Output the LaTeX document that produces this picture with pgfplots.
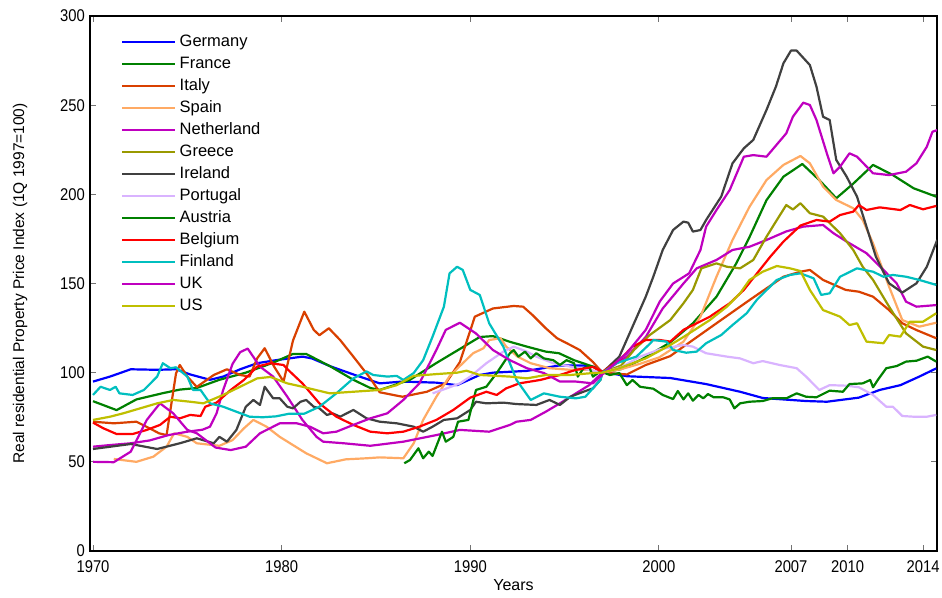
\documentclass[border=0pt]{standalone}
\usepackage{fontspec}
\setmainfont{Liberation Sans}
\newfontfamily\narrowfont[FakeStretch=0.87]{Liberation Sans}
\usepackage{pgfplots}
\pgfplotsset{compat=1.18}
\definecolor{cger}{RGB}{0,0,255}
\definecolor{cfra}{RGB}{0,128,0}
\definecolor{cita}{RGB}{217,64,0}
\definecolor{cspa}{RGB}{255,170,100}
\definecolor{cnet}{RGB}{191,0,191}
\definecolor{cgre}{RGB}{153,153,0}
\definecolor{cire}{RGB}{64,64,64}
\definecolor{cpor}{RGB}{217,179,255}
\definecolor{caus}{RGB}{0,128,0}
\definecolor{cbel}{RGB}{255,0,0}
\definecolor{cfin}{RGB}{0,191,191}
\definecolor{cuk}{RGB}{191,0,191}
\definecolor{cus}{RGB}{191,191,0}
\begin{document}
\begin{tikzpicture}
\useasboundingbox (-90pt,-46pt) rectangle (852pt,551pt);
\begin{axis}[
  scale only axis, width=847pt, height=535pt,
  xmin=1969.84, xmax=2014.74, ymin=0, ymax=300,
  xtick={1970,1980,1990,2000,2007,2010,2014},
  xticklabels={1970,1980,1990,2000,2007,2010,2014},
  ytick={0,50,100,150,200,250,300},
  yticklabels={0,50,100,150,200,250,300},
  tick align=inside, tick pos=both, major tick length=6pt,
  every tick/.style={black!55, line width=0.9pt},
  axis line style={line width=1.2pt},
  ticklabel style={font=\fontsize{17}{17}\selectfont\narrowfont},
  xticklabel style={inner sep=0pt, anchor=north, yshift=-9pt},
  yticklabel style={inner sep=0pt, anchor=east, xshift=-5pt},
  xlabel={Years}, ylabel={Real residential Property Price Index (1Q 1997=100)},
  every axis x label/.style={at={([yshift=-34pt]rel axis cs:0.5,0)}, anchor=center, font=\fontsize{16}{16}\selectfont},
  every axis y label/.style={at={([xshift=-70pt]rel axis cs:0,0.5)}, rotate=90, anchor=center, font=\fontsize{15.5}{16}\selectfont},
  no markers,
  every axis plot/.append style={line width=2.2pt, line join=round},
  legend cell align=left,
  legend image code/.code={\draw[#1, line width=2.5pt] (0pt,0pt) -- (53pt,0pt);},
  legend style={at={(rel axis cs:0,1)}, anchor=north west, xshift=31pt, yshift=-15pt,
    draw=none, fill=none, inner sep=0pt, row sep=0pt, column sep=0pt,
    font=\fontsize{16.5}{16.5}\selectfont,
    nodes={inner sep=3pt, text height=12pt, text depth=4pt}},
]
% Germany
\addplot[color=cger] coordinates {(1970,95)(1970.9,97.8)(1972,101.9)(1973.4,101.6)(1974.4,101.9)(1975.15,99)(1975.85,97)(1976.2,96)(1976.9,97.8)(1977.8,101.9)(1978.7,105.3)(1979.7,107)(1980.4,108)(1981.1,109)(1981.6,108)(1982.6,103.5)(1983.8,99)(1985.2,94)(1986.4,95)(1988.2,94.4)(1989.3,93)(1990.5,98.7)(1991.2,100)(1993,101)(1994.7,104)(1996,104)(1996.7,103)(1997,100.5)(1998.3,98)(2000.6,97)(2002.5,93.6)(2004.3,89.3)(2005.5,85.8)(2007.8,84.1)(2008.9,83.7)(2010.6,86)(2011.7,90.3)(2012.8,93)(2013.8,97.8)(2014.7,102.4)};
\addlegendentry{Germany}
% France
\addplot[color=cfra] coordinates {(1970,84)(1971.25,79)(1972.3,85)(1973.7,88.5)(1974.6,90.5)(1975.5,91.4)(1976.7,96)(1978.1,100)(1979.5,105.4)(1980.6,110.5)(1981.3,110.5)(1982.6,103.4)(1983.8,96)(1984.7,91.4)(1985.2,90.3)(1986.8,96)(1988.2,105.4)(1989.4,113)(1990.5,120)(1991.2,120.5)(1992.1,117.3)(1993,114.6)(1994,111.8)(1994.7,110.9)(1995.5,107)(1996.5,103.4)(1997,100)(1998,102)(1999,107)(1999.5,110)(2000.6,117)(2001.8,127.7)(2003.05,142.6)(2004.1,161.3)(2004.8,176)(2005.7,196.7)(2006.6,209.9)(2007.6,217)(2008.5,208)(2009.4,197.8)(2010.3,206)(2011.35,216.5)(2012.4,210.8)(2013.5,203.4)(2014.7,198.7)};
\addlegendentry{France}
% Italy
\addplot[color=cita] coordinates {(1970,72.5)(1971.1,71.6)(1972.3,72.5)(1973,68.8)(1973.5,66)(1973.9,65)(1974.4,99.6)(1974.6,104.3)(1975,97.8)(1975.5,92)(1976.4,98.7)(1977.1,101.9)(1977.8,98.7)(1978.3,97.8)(1978.7,108)(1979.1,113.7)(1979.6,103.4)(1980.1,95)(1980.6,118)(1981.2,134.2)(1981.7,124)(1982,121)(1982.5,124.9)(1983.1,118.3)(1983.8,109)(1984.7,96.8)(1985.2,89)(1986.4,86.5)(1987.7,89.3)(1988.7,94)(1989.45,106)(1990.24,131.4)(1991.2,136)(1992.3,137.4)(1992.8,137)(1993.3,132.3)(1994,124.9)(1994.6,119.3)(1995.3,115.5)(1995.8,112.7)(1996.5,106)(1997,100)(1998.3,99)(1999.3,104.3)(2000.6,109.3)(2001.3,114.6)(2003.05,127.7)(2004.8,140.7)(2006.6,153.8)(2007.5,156.6)(2008,157.6)(2008.7,152)(2009.9,146.4)(2010.6,145.4)(2011.35,142.6)(2012.2,135.1)(2012.9,127.7)(2013.65,123.9)(2014.7,119.3)};
\addlegendentry{Italy}
% Spain
\addplot[color=cspa] coordinates {(1971.1,51.6)(1972.3,50)(1973.2,52.9)(1973.9,58.5)(1974.3,66)(1975,64)(1975.5,60.4)(1976.7,59)(1977.4,62.2)(1978,68.8)(1978.5,73.5)(1979.2,69.7)(1979.9,64)(1981.3,54.8)(1982.4,49.2)(1983.4,51.4)(1984.5,52)(1985.2,52.5)(1986.45,52)(1987,60.4)(1987.5,73.5)(1988.2,86.5)(1988.9,98)(1989.6,105.3)(1990.15,110.9)(1990.7,113.7)(1991,118.3)(1991.6,119.3)(1991.9,114.6)(1992.5,109)(1993.2,105.3)(1994.2,102.5)(1995.3,101.6)(1996.3,101.6)(1997,100)(1998,102)(1999,105)(2000,108.5)(2001.3,117.4)(2002.2,131.4)(2003.05,153.8)(2003.9,174.4)(2004.8,193)(2005.7,208)(2006.6,216.5)(2007.5,221.5)(2008,217.4)(2008.7,204.3)(2009.4,196.8)(2010.3,192.2)(2010.8,185.6)(2011.35,172.5)(2012.2,148.2)(2012.9,129.5)(2013.8,125.8)(2014.7,128)};
\addlegendentry{Spain}
% Netherland
\addplot[color=cnet] coordinates {(1970,58.5)(1971,59.5)(1972,60.4)(1973,62)(1974,65)(1975,66.9)(1975.8,68)(1976.2,69.7)(1976.55,77.2)(1976.9,90.3)(1977.4,105)(1977.8,111.5)(1978.2,113.5)(1978.85,103.4)(1979.55,97.8)(1980.3,86.5)(1981.1,73.5)(1981.85,64)(1982.2,61.3)(1983.3,60.4)(1984.7,59)(1986.45,61.3)(1988.2,65)(1989.45,67.9)(1991,66.9)(1992.1,70.7)(1992.45,72.5)(1993.2,73.5)(1994,78.1)(1994.75,82.8)(1995.6,88.4)(1996.3,93)(1997,100)(1998.3,109)(1999.3,120)(2000.2,136)(2000.75,143)(2001.3,150)(2002,158.5)(2003.05,163.2)(2003.9,168.8)(2004.8,170.6)(2005.7,174.4)(2006.75,179.2)(2007.65,181.9)(2008.7,182.8)(2009.25,178.2)(2009.95,173.5)(2011,167)(2011.9,157.6)(2012.6,150.1)(2013.1,139.8)(2013.65,137)(2014.7,137.9)};
\addlegendentry{Netherland}
% Greece
\addplot[color=cgre] coordinates {(1997,100)(1998,104)(1998.7,113)(1999.5,121)(2000.6,129.5)(2001.3,138.9)(2001.8,146.4)(2002.25,158.5)(2003.05,161.3)(2003.6,159.4)(2004.3,158.5)(2005,163.2)(2005.7,176.2)(2006.25,185.6)(2006.75,194)(2007.1,191.5)(2007.5,195)(2008,189.4)(2008.7,187.5)(2009.6,178.2)(2010.3,168.8)(2010.8,159.4)(2011.35,152)(2012.2,137)(2013.1,122)(2014,114.6)(2014.7,112.7)};
\addlegendentry{Greece}
% Ireland
\addplot[color=cire] coordinates {(1970,57.2)(1972,60)(1973.4,57.2)(1974.6,60.4)(1975.5,63.2)(1976.4,60.4)(1976.7,64)(1977.1,61.3)(1977.6,67.9)(1978.1,80.9)(1978.5,84.7)(1978.85,81.9)(1979.1,92.1)(1979.55,85.6)(1979.9,85.6)(1980.3,80.9)(1980.6,80)(1981,83.7)(1981.3,84.7)(1981.7,80.9)(1982,80)(1982.4,76.3)(1982.7,77.2)(1983.1,75.3)(1983.8,79.1)(1984.5,74.4)(1985.2,72.5)(1986.1,71.6)(1987,69.7)(1987.5,66.9)(1988,69.7)(1988.6,73.5)(1989.3,74.4)(1990,79.1)(1990.3,83.7)(1990.85,82.8)(1991.75,83.2)(1992.45,82.4)(1993.5,81.9)(1994.2,84.7)(1994.75,81.9)(1995.3,86.5)(1996,89.3)(1996.5,91.2)(1996.9,96)(1997,100)(1997.9,109)(1998.6,125.8)(1999.3,142.6)(1999.7,153.8)(2000.2,168.8)(2000.75,180)(2001.3,184.7)(2001.55,184.1)(2001.8,179.1)(2002.2,180)(2002.5,185.6)(2003.3,198.7)(2003.9,217.4)(2004.5,225.8)(2005,230.5)(2005.7,247.3)(2006.2,260.4)(2006.6,273.5)(2007,280.6)(2007.3,280.6)(2008,272.5)(2008.35,260.4)(2008.7,243.5)(2009.05,241.7)(2009.4,219.3)(2009.95,209.9)(2010.5,198.7)(2011,181.9)(2011.5,165)(2012.2,150.1)(2012.9,144.9)(2013.65,150.1)(2014.2,159.4)(2014.75,174.4)};
\addlegendentry{Ireland}
% Portugal
\addplot[color=cpor] coordinates {(1988,88.4)(1988.7,91)(1989.45,94)(1990,97.8)(1990.85,105.3)(1991.75,111.8)(1992.3,114.6)(1993,111.8)(1993.5,109)(1994.4,105.3)(1995.3,103.4)(1996.3,101.6)(1997,100)(1998,103)(1999,109)(2000.05,113.1)(2001.3,115.5)(2001.8,114.6)(2002.5,110.9)(2003.6,109)(2004.3,108)(2005,105.3)(2005.5,106.5)(2006.4,104.3)(2007.3,102.5)(2007.8,97.8)(2008.5,90.3)(2009.05,93)(2009.95,92.7)(2010.6,91.8)(2011.35,87.5)(2012.05,80.9)(2012.4,80.9)(2012.9,75.7)(2013.5,75.3)(2014.2,75.3)(2014.7,76.3)};
\addlegendentry{Portugal}
% Austria
\addplot[color=caus] coordinates {(1986.5,49.2)(1986.8,51)(1987.25,57.6)(1987.5,52)(1987.8,55.7)(1988,53.3)(1988.5,66.9)(1988.7,61.3)(1989.1,64)(1989.35,72.5)(1989.9,73.5)(1990.3,90.3)(1990.85,92.1)(1991.4,99.8)(1991.75,105.3)(1992.1,110.9)(1992.3,112.7)(1992.55,109)(1992.9,111.8)(1993.2,108)(1993.5,110.9)(1993.9,108)(1994.4,107)(1994.75,104.3)(1995.1,107)(1995.5,105.3)(1995.7,97.8)(1996,102.5)(1996.3,103.4)(1996.5,97.8)(1996.9,100.7)(1997.4,98.7)(1997.9,99.8)(1998.3,93)(1998.6,95.9)(1999,92.1)(1999.7,91)(2000.2,87.5)(2000.75,85.2)(2001,89.7)(2001.3,85)(2001.55,88.4)(2001.8,84.3)(2002.1,87.5)(2002.35,85.6)(2002.6,88)(2002.9,86.2)(2003.4,86.2)(2003.75,85)(2004,80)(2004.3,82.8)(2004.8,83.7)(2005.5,84.1)(2006,85.6)(2006.75,85.6)(2007.3,88.4)(2007.8,86.5)(2008.35,86.2)(2009.05,89.9)(2009.75,89.3)(2010.1,93.6)(2010.8,94)(2011.2,95.9)(2011.35,91.8)(2011.6,95.9)(2012.05,102.5)(2012.6,103.7)(2013.1,106.2)(2013.65,106.7)(2014.25,109)(2014.7,106.2)};
\addlegendentry{Austria}
% Belgium
\addplot[color=cbel] coordinates {(1970,72)(1970.55,68.8)(1971.25,65.6)(1972.1,65.6)(1972.85,67.9)(1973.55,70.7)(1974.1,75.3)(1974.6,74.4)(1975.15,76.3)(1975.7,75.7)(1975.95,80.9)(1976.55,83.2)(1977.3,90.3)(1978,95.9)(1978.7,103.4)(1979.4,105.3)(1980.1,104.3)(1980.3,102)(1981.1,94)(1982,82.8)(1982.9,75.3)(1983.8,70.7)(1984.7,66.9)(1985.6,66)(1986.45,66.9)(1987.3,69.7)(1988.2,73.5)(1989.1,79.1)(1990,86)(1990.85,89.3)(1991.4,87.5)(1991.9,91.2)(1992.6,94)(1993.7,95.9)(1994.75,98.7)(1995.6,101.6)(1996.5,103.2)(1997,100.5)(1997.9,107)(1998.6,114.6)(1999.3,118.3)(2000.05,118.3)(2000.6,117.4)(2001.3,124)(2002.7,131.4)(2003.75,138.9)(2004.5,146.4)(2005.2,155.7)(2005.9,165)(2006.6,173.5)(2007.5,182.5)(2008.35,185.6)(2009.05,184.7)(2009.6,188.4)(2010.3,190.3)(2010.6,194)(2011,191.2)(2011.7,192.7)(2012.8,191.2)(2013.3,194)(2014,191.6)(2014.7,193.5)};
\addlegendentry{Belgium}
% Finland
\addplot[color=cfin] coordinates {(1970,87.5)(1970.4,92.1)(1970.9,90.3)(1971.2,92.1)(1971.4,88.4)(1972.1,87.5)(1972.7,90.3)(1973.4,97.8)(1973.7,105.3)(1974.1,102.5)(1974.4,103)(1975,97.8)(1975.3,90.3)(1975.7,90.3)(1976.2,82.8)(1976.9,80.9)(1977.6,78.1)(1978.3,75.3)(1979,75)(1979.7,75.5)(1980.4,77)(1981.2,77)(1982,80.9)(1982.9,88.4)(1983.8,96.8)(1984.5,100.7)(1984.85,98.7)(1985.6,97.8)(1986.1,98.2)(1986.45,95.9)(1987,99.8)(1987.5,107)(1988,120.2)(1988.6,137)(1988.9,155.7)(1989.3,159.4)(1989.6,157.6)(1990,146.4)(1990.5,143.6)(1991,127.7)(1991.75,114.6)(1992.45,95.9)(1993.2,84.7)(1993.9,88.4)(1994.75,86.5)(1995.6,85.6)(1996.1,86.5)(1996.9,96)(1997,100)(1997.75,105.3)(1998.8,109)(1999.5,116)(1999.7,118.3)(2000.4,117.4)(2000.75,112.7)(2001.45,111.2)(2002,111.8)(2002.5,116.5)(2003.3,121.1)(2003.9,126.7)(2004.65,133.3)(2005.2,141)(2006.25,152)(2006.95,154.8)(2007.5,155.7)(2008.2,152.9)(2008.6,143.6)(2009.05,144.5)(2009.6,153.8)(2010.5,158.5)(2011.35,156.6)(2011.9,153.8)(2012.4,154.8)(2013.1,153.8)(2013.8,152)(2014.7,149.2)};
\addlegendentry{Finland}
% UK
\addplot[color=cuk] coordinates {(1970,50)(1971.1,49.8)(1972,55.7)(1972.85,73.5)(1973.55,82.8)(1974.25,77.2)(1975,67.9)(1975.5,66)(1976.5,58)(1977.3,56.6)(1978.1,58.5)(1978.85,66)(1979.9,71.6)(1980.8,71.6)(1981.5,69.7)(1982.2,66)(1982.9,66.9)(1983.8,70.7)(1984.7,74.4)(1985.6,77.2)(1986.45,84.7)(1987.3,94)(1988.2,112.7)(1988.7,124)(1989.45,128)(1990.3,122)(1991.2,112.7)(1992.1,107)(1993,102.5)(1993.9,99.8)(1994.75,95)(1995.6,95)(1996.5,94)(1997,99)(1998.3,111)(1999.3,124)(2000.05,140)(2000.75,150)(2001.6,155.7)(2002.2,168.8)(2002.5,181.9)(2003.05,191.2)(2003.75,202.4)(2004.5,221.1)(2005,222)(2005.7,221.1)(2006.75,234.2)(2007.1,243.5)(2007.65,251.4)(2008,250.1)(2008.35,241.7)(2008.9,223)(2009.25,211.8)(2009.6,215.5)(2010.1,223)(2010.5,221.1)(2011.35,211.8)(2012.2,210.8)(2013.1,212.7)(2013.65,217.4)(2014.2,226.7)(2014.5,235.1)(2014.75,236)};
\addlegendentry{UK}
% US
\addplot[color=cus] coordinates {(1970,73.5)(1970.9,75.3)(1971.6,77.2)(1972.5,80)(1973.4,82.8)(1974.25,84.7)(1975.15,83.7)(1975.85,82.8)(1976.9,87.5)(1977.8,92.1)(1978.7,96.8)(1979.4,97.6)(1980.3,94)(1981.1,92.1)(1982.55,88.4)(1983.8,89.3)(1985.2,90.3)(1986.1,93)(1987,98.2)(1988.2,99.2)(1989.3,100)(1989.8,101.1)(1990.5,98.7)(1992.1,97.8)(1993,96.8)(1994,98.7)(1995.3,98.7)(1996.5,99.8)(1997,100)(1997.9,102.5)(1999.3,108)(2000.6,115.5)(2001.3,120)(2002.7,129.5)(2003.6,137)(2004.3,144.5)(2004.8,152)(2005.5,156.6)(2006.25,159.8)(2006.95,158.5)(2007.5,157)(2008,146.4)(2008.7,135.1)(2009.6,131.4)(2010.1,126.7)(2010.5,127.7)(2011,117.4)(2011.9,116.5)(2012.2,121.1)(2012.8,120.2)(2013.3,128.6)(2014,128.6)(2014.7,133.3)};
\addlegendentry{US}
\end{axis}
\end{tikzpicture}
\end{document}
